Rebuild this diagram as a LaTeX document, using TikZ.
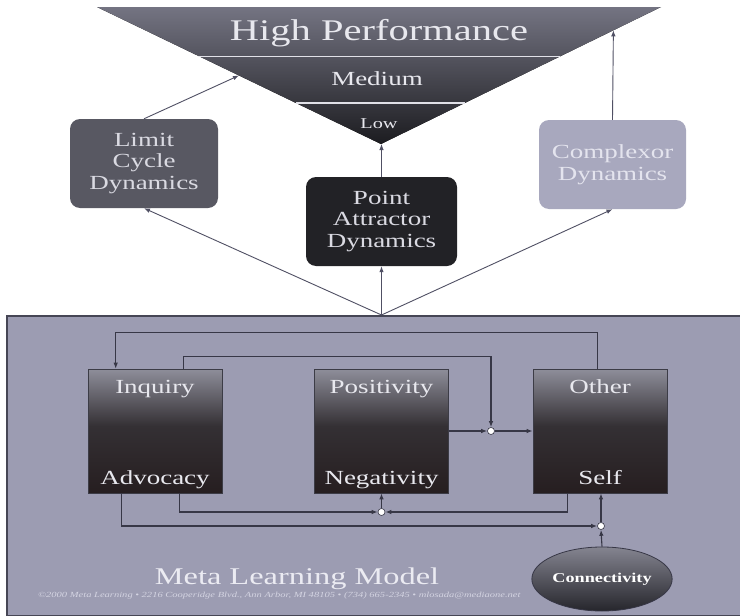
\documentclass[tikz,border=0pt]{standalone}
\usepackage{fontspec}
\setmainfont{Liberation Serif}[FakeStretch=1.35]
\usetikzlibrary{arrows.meta,calc,shapes.geometric}
\definecolor{tritop}{RGB}{116,116,130}
\definecolor{tribot}{RGB}{28,28,32}
\definecolor{stripecol}{RGB}{225,225,232}
\definecolor{hptxt}{RGB}{232,232,238}
\definecolor{lcfill}{RGB}{88,88,98}
\definecolor{pafill}{RGB}{34,34,38}
\definecolor{cxfill}{RGB}{168,168,190}
\definecolor{dyntxt}{RGB}{218,218,226}
\definecolor{cxtxt}{RGB}{228,228,238}
\definecolor{arrcol}{RGB}{80,80,100}
\definecolor{panelfill}{RGB}{156,156,178}
\definecolor{paneledge}{RGB}{70,70,85}
\definecolor{bxtop}{RGB}{142,142,154}
\definecolor{bxmid}{RGB}{52,48,52}
\definecolor{bxbot}{RGB}{38,30,32}
\definecolor{bxedge}{RGB}{60,60,70}
\definecolor{lbltxt}{RGB}{232,232,238}
\definecolor{conncol}{RGB}{55,55,70}
\definecolor{cntop}{RGB}{132,132,144}
\definecolor{cnbot}{RGB}{38,38,44}
\definecolor{mlmtxt}{RGB}{235,235,242}
\definecolor{foottxt}{RGB}{212,212,226}
\pgfdeclareverticalshading{bxshade}{100bp}{color(0bp)=(bxbot); color(25bp)=(bxbot); color(52bp)=(bxmid); color(75bp)=(bxtop); color(100bp)=(bxtop)}
\tikzset{
  dyn/.style={rectangle, rounded corners=10pt, minimum width=148pt, minimum height=89pt,
    inner sep=0pt, align=center, font=\fontsize{20}{21.5}\selectfont, text=dyntxt},
  mbox/.style={rectangle, draw=bxedge, line width=0.6pt, shading=bxshade,
    minimum width=134pt, minimum height=124pt, inner sep=0pt},
  mlbl/.style={font=\fontsize{20}{22}\selectfont, text=lbltxt, anchor=base, inner sep=0pt},
  tarrow/.style={draw=arrcol, line width=0.9pt, -{Latex[length=6pt,width=4.5pt]}},
  conn/.style={draw=conncol, line width=1.1pt},
  carrow/.style={conn, -{Latex[length=6pt,width=4.5pt]}},
  junc/.style={circle, draw=conncol, fill=white, line width=0.6pt, minimum size=7pt, inner sep=0pt},
  stripe/.style={draw=stripecol, line width=1.5pt},
  tritext/.style={anchor=base, inner sep=0pt, text=hptxt}
}
\begin{document}
\begin{tikzpicture}[x=1pt,y=-1pt]
\useasboundingbox (0,0) rectangle (740,616);
\fill[white] (0,0) rectangle (740,616);

% bottom panel
\node (panel) [rectangle, draw=paneledge, fill=panelfill, line width=2pt, anchor=north west,
  minimum width=740pt, minimum height=300pt, inner sep=0pt] at (6,315) {};

% triangle
\coordinate (tl) at (97,7);
\coordinate (tr) at (661,7);
\coordinate (apex) at (381,144);
\fill[top color=tritop, bottom color=tribot] (tl) -- (tr) -- (apex) -- cycle;
\draw[stripe] ($(tl)!0.36!(apex)$) -- ($(tr)!0.36!(apex)$);
\draw[stripe] ($(tl)!0.70!(apex)$) -- ($(tr)!0.70!(apex)$);
\node (hp) [tritext, font=\fontsize{30}{30}\selectfont] at (379,40) {High Performance};
\node (med) [tritext, font=\fontsize{20}{20}\selectfont] at (377,85) {Medium};
\node (low) [tritext, font=\fontsize{15}{15}\selectfont] at (379,128) {Low};

% dynamics boxes
\node (lc) [dyn, fill=lcfill] at (144,163.5) {Limit\\Cycle\\Dynamics};
\node (pa) [dyn, fill=pafill, minimum width=151pt] at (381.5,221.5) {Point\\Attractor\\Dynamics};
\node (cx) [dyn, fill=cxfill, text=cxtxt, minimum width=147pt] at (612.5,164.5) {Complexor\\Dynamics};

\coordinate (base) at (pa.south |- panel.north);
\draw[tarrow] (base) -- (lc.south);
\draw[tarrow] (base) -- (pa.south);
\draw[tarrow] (base) -- (cx.south);
\draw[tarrow] (pa.north) -- (pa.north |- apex);
\draw[tarrow] (lc.north) -- ($(tl)!0.5!(apex)$);
\draw[tarrow] (cx.north) -- ($(tr)!0.17!(apex)$);

% model boxes
\node (inq) [mbox] at (155,431) {};
\node (posb) [mbox] at (381.5,431) {};
\node (oth) [mbox] at (600,431) {};
\node (inqT) [mlbl] at (155,393) {Inquiry};
\node (inqB) [mlbl] at (155,484) {Advocacy};
\node (posT) [mlbl] at (381.5,393) {Positivity};
\node (posB) [mlbl] at (381.5,484) {Negativity};
\node (othT) [mlbl] at (600,393) {Other};
\node (othB) [mlbl] at (600,484) {Self};

% junctions
\node (j1) [junc] at (491,431) {};
\node (j3) [junc] at (381.5,512) {};
\node (j2) [junc] at (601,526) {};

% connectivity
\node (cn) [ellipse, minimum width=93pt, minimum height=64pt, inner sep=0pt, draw=conncol,
  line width=0.8pt, top color=cntop, bottom color=cnbot, text=white,
  font=\bfseries\fontsize{13.5}{14}\selectfont] at (602,579) {Connectivity};

% connectors
\draw[carrow] ($(oth.north west)+(65,0)$) -- ++(0,-36) -| ($(inq.north west)+(28,0)$);
\draw[carrow] ($(inq.north west)+(96,0)$) -- ++(0,-12) -| (j1.north);
\draw[carrow] (posb.east) -- (j1.west);
\draw[carrow] (j1.east) -- (oth.west);
\draw[carrow] ($(inq.south west)+(34,0)$) |- (j2.west);
\draw[carrow] ($(inq.south west)+(92,0)$) |- (j3.west);
\draw[carrow] ($(oth.south west)+(35,0)$) |- (j3.east);
\draw[carrow] (j3.north) -- (j3.north |- posb.south);
\draw[carrow] (j2.north) -- (j2.north |- oth.south);
\draw[carrow] (cn.north) -- (j2.south);

% titles
\node (mlm) [anchor=base, inner sep=0pt, text=mlmtxt, font=\fontsize{24}{24}\selectfont] at (297,584) {Meta Learning Model};
\node (foot) [anchor=west, inner sep=0pt, text=foottxt, font=\itshape\fontsize{7.8}{8}\selectfont] at (38,596)
  {©2000 Meta Learning • 2216 Cooperidge Blvd., Ann Arbor, MI 48105 • (734) 665-2345 • mlosada@mediaone.net};
\end{tikzpicture}
\end{document}
